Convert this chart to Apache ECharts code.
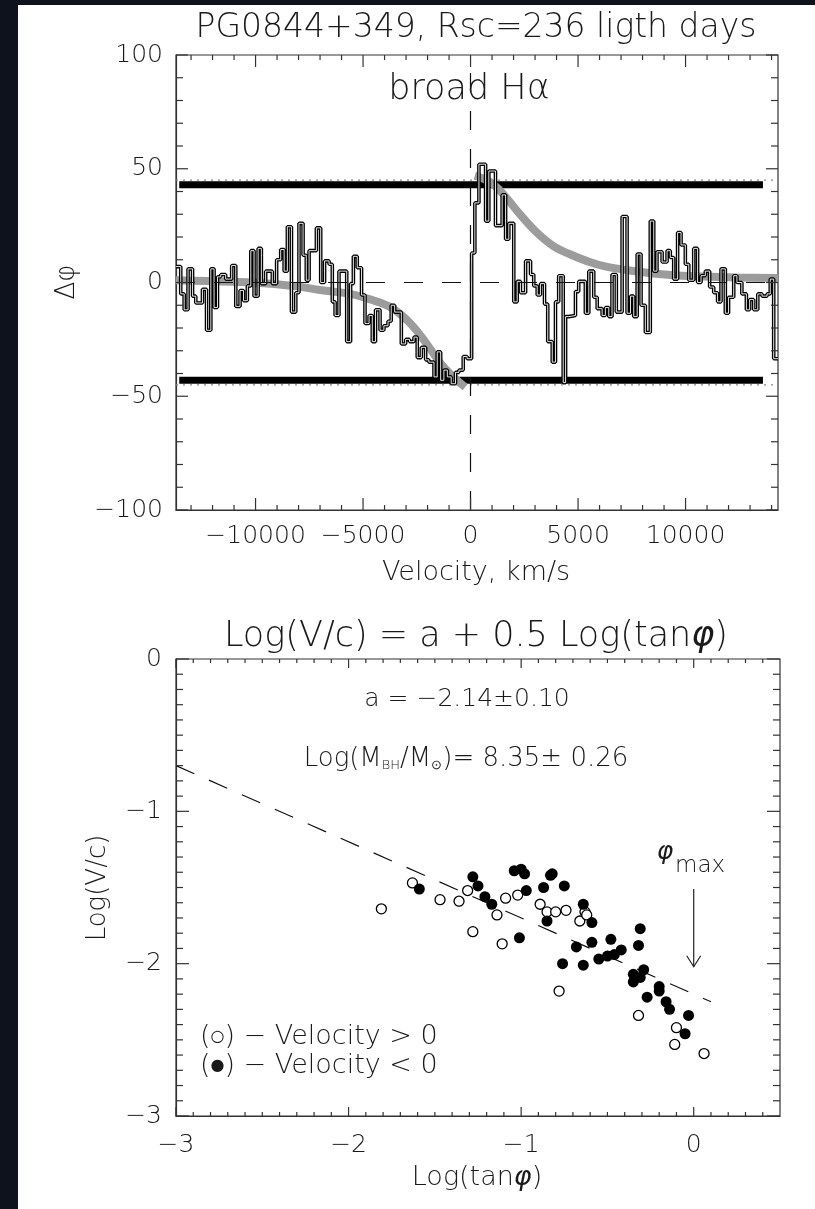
<!DOCTYPE html>
<html>
<head>
<meta charset="utf-8">
<script src="https://cdn.jsdelivr.net/npm/echarts@6/dist/echarts.min.js"></script>
<style>
  html, body { margin: 0; padding: 0; background: #fff; }
  #chart { width: 815px; height: 1209px; }
</style>
</head>
<body>
<div id="chart"></div>
<script>
// ---- top panel: broad H-alpha, delta phi vs velocity ----
const histVel = [-13700, -13480, -13320, -13140, -12930, -12780, -12470, -12280, -12080, -11930,
  -11770, -11620, -11390, -11110, -10920, -10720, -10560, -10380, -10220, -10070,
  -9880, -9730, -9530, -9220, -9020, -8830, -8670, -8520, -8330, -8130,
  -7980, -7790, -7640, -7510, -7170, -6970, -6790, -6580, -6430, -6300,
  -6120, -5960, -5760, -5580, -5450, -5270, -5070, -4910, -4720, -4570,
  -4420, -4210, -4030, -3840, -3690, -3530, -3220, -3020, -2840, -2630,
  -2480, -2290, -2090, -1940, -1700, -1550, -1390, -1240, -1080, -900,
  -700, -540, -340, -160, 50, 200, 390, 700, 850, 1160,
  1470, 1630, 1780, 2010, 2170, 2320, 2560, 2790, 2940, 3100,
  3250, 3440, 3590, 3800, 3950, 4100, 4310, 4420, 4570, 4880,
  5030, 5340, 5500, 5730, 5890, 6120, 6270, 6430, 6580, 6780,
  7050, 7280, 7440, 7590, 7750, 7930, 8130, 8360, 8520, 8670,
  8910, 9140, 9290, 9450, 9630, 9790, 9990, 10150, 10380, 10560,
  10720, 10920, 11120, 11310, 11490, 11650, 11850, 12000, 12240, 12390,
  12620, 12830, 12980, 13170, 13360, 13560, 13790, 13940, 14100, 14300]
const histPhi = [7, -5, -12, 6, -6, -9, -3, -21, 6, -11,
  2.5, 3.5, 1.5, 7.5, -10.5, -3.5, -8, -1.5, 14, -6,
  15, -0.5, 5, -0.5, 10, 14.5, 5, 24.5, -13, -4.5,
  26, 12, 1, 14, 24, 0, 9.5, 8, -8.5, -14.5,
  5, 5, -26, -0.5, 11.5, 6.5, -5.5, -18, -14.5, -26,
  -12, -21, -19, -17, -10, -13, -27, -25, -26, -24,
  -33, -28.5, -34, -35, -41.5, -30.5, -43, -38.5, -41.5, -44.5,
  -39.5, -38.5, -32.5, -33.5, 13, 35, 52, 27, 49, 25,
  38.5, 19, 26, -8.5, 0.5, -4.5, 9.5, 3.5, -1.5, -5.5,
  -0.5, -9.5, -26, -35, -8.5, 3, -44, -15, -14.5, -4,
  0.5, -13.5, 5, -6.5, -11.5, -14.5, -11, -15, 3.5, -13,
  29, -13.5, -6, -15, 12.5, -10, -22, 27, 5, 13.5,
  9, 14, 11, 1.5, 22, 16.5, 8, 1, 15, 0,
  3, 5, -2, -4.5, -8.5, 6, -13.5, -6.5, 3, 0,
  -5, -12, -7.5, -12, -5, -6, -5, 1.5, -33.5, -33.5]

// model curve (grey), two branches either side of v = 0
const modelVelNeg = [-13700, -11000, -9300, -8000, -7000, -5600, -4650, -3700, -2800, -2000, -1400, -800, -250]
const modelPhiNeg = [1, 0.3, -0.5, -1.8, -3.3, -5, -7.5, -11, -18, -27.5, -35.5, -41.5, -46]
const modelVelPos = [200, 930, 1550, 2320, 3100, 3870, 4650, 5420, 6200, 7750, 9300, 10840, 12400, 14300]
const modelPhiPos = [47, 44, 38.5, 29.7, 21.8, 15.9, 12.3, 9.4, 7.2, 4.8, 3.3, 2.6, 2.2, 2]

// +-phi limits: thick bars and dotted lines
const barPhi = 43
const barVel = [-13550, 13600]
const limitPhi = 45

const velRange = [-13700, 14300]
const topXMajorTicks = [-10000, -5000, 0, 5000, 10000]
const topXMinorTicks = [-13000, -12000, -11000, -9000, -8000, -7000, -6000, -4000, -3000, -2000, -1000,
  1000, 2000, 3000, 4000, 6000, 7000, 8000, 9000, 11000, 12000, 13000, 14000]
const topYMajorTicks = [-100, -50, 0, 50, 100]
const topYMinorTicks = [-90, -80, -70, -60, -40, -30, -20, -10, 10, 20, 30, 40, 60, 70, 80, 90]

// ---- bottom panel: Log(V/c) vs Log(tan phi) ----
const posX = [-1.81, -1.63, -1.47, -1.36, -1.31, -1.28, -1.14, -1.11, -1.09, -1.02, -0.89,
  -0.85, -0.80, -0.74, -0.66, -0.63, -0.62, -0.78, -0.32, -0.10, -0.11, 0.06]
const posY = [-1.64, -1.47, -1.58, -1.59, -1.52, -1.79, -1.68, -1.87, -1.57, -1.55, -1.61,
  -1.66, -1.66, -1.65, -1.72, -1.66, -1.68, -2.18, -2.34, -2.42, -2.53, -2.59]
const negX = [-1.59, -1.28, -1.25, -1.21, -1.17, -1.04, -1.00, -0.98, -0.97, -0.87, -0.83,
  -0.82, -0.75, -1.01, -0.85, -0.76, -0.68, -0.64, -0.64, -0.59, -0.59, -0.55, -0.50,
  -0.48, -0.46, -0.42, -0.31, -0.32, -0.29, -0.35, -0.35, -0.31, -0.27, -0.20, -0.20,
  -0.16, -0.14, -0.03, -0.05]
const negY = [-1.51, -1.43, -1.49, -1.56, -1.61, -1.39, -1.38, -1.41, -1.52, -1.50, -1.42,
  -1.41, -1.49, -1.83, -1.72, -2.00, -1.89, -1.61, -2.01, -1.86, -1.73, -1.97, -1.95,
  -1.84, -1.94, -1.91, -1.77, -1.88, -2.04, -2.07, -2.12, -2.09, -2.22, -2.15, -2.18,
  -2.25, -2.30, -2.34, -2.46]

const fitX = [-3, 0.1]
const fitY = [-0.70, -2.25]
// phi_max arrow: x, from y, to y
const phiMaxArrow = [0, -1.51, -2.02]

const botXMajorTicks = [-3, -2, -1, 0]
const botXMinorTicks = [-2.9, -2.8, -2.7, -2.6, -2.5, -2.4, -2.3, -2.2, -2.1,
  -1.9, -1.8, -1.7, -1.6, -1.5, -1.4, -1.3, -1.2, -1.1,
  -0.9, -0.8, -0.7, -0.6, -0.5, -0.4, -0.3, -0.2, -0.1, 0.1, 0.2, 0.3, 0.4]
const botYMajorTicks = [-3, -2, -1, 0]
const botYMinorTicks = [-2.9, -2.8, -2.7, -2.6, -2.5, -2.4, -2.3, -2.2, -2.1,
  -1.9, -1.8, -1.7, -1.6, -1.5, -1.4, -1.3, -1.2, -1.1,
  -0.9, -0.8, -0.7, -0.6, -0.5, -0.4, -0.3, -0.2, -0.1]

const FONT = '"DejaVu Sans", sans-serif'
const WEIGHT = 200
const INK = '#1a1a1a'
const zip = (xs, ys) => xs.map((x, i) => [x, ys[i]])
const minus = v => String(v).replace('-', '\u2212')

function valueAxis (gridIndex, min, max, labels, margin) {
  return {
    type: 'value',
    gridIndex: gridIndex,
    min: min,
    max: max,
    axisLine: { show: true, onZero: false, lineStyle: { color: '#333', width: 1.2 } },
    axisTick: { show: false },
    splitLine: { show: false },
    axisLabel: {
      customValues: labels,
      margin: margin,
      fontFamily: FONT,
      fontWeight: WEIGHT,
      fontSize: 25,
      color: INK,
      formatter: minus
    }
  }
}

// inward ticks on all four sides, drawn through the axis scales
function tickSeries (idx, xMaj, xMin, yMaj, yMin, x0, y0, len) {
  const data = [].concat(
    xMin.map(v => [v, y0, 0]), xMaj.map(v => [v, y0, 1]),
    yMin.map(v => [x0, v, 2]), yMaj.map(v => [x0, v, 3]))
  return {
    type: 'custom',
    xAxisIndex: idx,
    yAxisIndex: idx,
    silent: true,
    z: 5,
    encode: { x: 0, y: 1 },
    data: data,
    renderItem: function (params, api) {
      const cs = params.coordSys
      const p = api.coord([api.value(0), api.value(1)])
      const kind = api.value(2)
      const l = len[kind]
      const style = { stroke: '#333', lineWidth: 1.2 }
      if (kind < 2) {
        return { type: 'group', children: [
          { type: 'line', shape: { x1: p[0], y1: cs.y + cs.height, x2: p[0], y2: cs.y + cs.height - l }, style: style },
          { type: 'line', shape: { x1: p[0], y1: cs.y, x2: p[0], y2: cs.y + l }, style: style }
        ] }
      }
      return { type: 'group', children: [
        { type: 'line', shape: { x1: cs.x, y1: p[1], x2: cs.x + l, y2: p[1] }, style: style },
        { type: 'line', shape: { x1: cs.x + cs.width, y1: p[1], x2: cs.x + cs.width - l, y2: p[1] }, style: style }
      ] }
    }
  }
}

function label (x, y, text, rich, opts) {
  const o = opts || {}
  return {
    type: 'text',
    x: x,
    y: y,
    rotation: o.rotation || 0,
    z: 10,
    style: {
      text: text,
      rich: rich,
      fontFamily: FONT,
      fontWeight: WEIGHT,
      fontSize: o.size || 25,
      fill: INK,
      align: o.align || 'center',
      verticalAlign: 'middle'
    }
  }
}

function richSet (size) {
  return {
    t: { fontFamily: FONT, fontWeight: WEIGHT, fontSize: size, color: INK },
    i: { fontFamily: FONT, fontStyle: 'italic', fontSize: size, color: INK },
    s: { fontFamily: FONT, fontWeight: WEIGHT, fontSize: Math.round(size * 0.5), color: INK, verticalAlign: 'bottom' },
    c: { fontFamily: FONT, fontSize: Math.round(size * 0.6), color: INK }
  }
}

const myChart = echarts.init(document.getElementById('chart'))

const option = {
  animation: false,
  backgroundColor: '#ffffff',
  grid: [
    { left: 176, top: 55, width: 602, height: 455, show: true, borderColor: '#333', borderWidth: 1.2, outerBoundsMode: 'none' },
    { left: 176, top: 659, width: 604, height: 457, show: true, borderColor: '#333', borderWidth: 1.2, outerBoundsMode: 'none' }
  ],
  xAxis: [
    valueAxis(0, velRange[0], velRange[1], topXMajorTicks, 14),
    valueAxis(1, -3, 0.5, botXMajorTicks, 17)
  ],
  yAxis: [
    valueAxis(0, -100, 100, topYMajorTicks, 13),
    valueAxis(1, -3, 0, botYMajorTicks, 14)
  ],
  graphic: [
    { type: 'rect', shape: { x: 0, y: 0, width: 18, height: 1209 }, style: { fill: '#0d121c' }, z: 20 },
    { type: 'rect', shape: { x: 0, y: 0, width: 815, height: 5 }, style: { fill: '#0d121c' }, z: 20 },
    label(476, 28, 'PG0844+349, Rsc=236 ligth days', null, { size: 33 }),
    label(469, 90, 'broad H\u03b1', null, { size: 35 }),
    label(67, 282, '\u0394\u03c6', null, { size: 26, rotation: Math.PI / 2 }),
    label(476, 573, 'Velocity, km/s', null, { size: 27 }),
    label(476, 637, '{t|Log(V/c) = a + 0.5 Log(tan}{i|\u03c6}{t|)}', richSet(35)),
    label(467, 699, 'a = \u22122.14\u00b10.10', null, { size: 25 }),
    label(466, 759, '{t|Log(M}{s|BH}{t|/M}{s|\u2299}{t|)= 8.35\u00b1 0.26}', richSet(26)),
    label(665, 852, '{i|\u03c6}', richSet(25)),
    label(675, 866, 'max', null, { size: 23, align: 'left' }),
    label(200, 1037, '{t|(}{c|\u25cb}{t|) \u2212 Velocity > 0}', richSet(27), { align: 'left' }),
    label(200, 1066, '{t|(}{c|\u25cf}{t|) \u2212 Velocity < 0}', richSet(27), { align: 'left' }),
    label(98, 888, 'Log(V/c)', null, { size: 26, rotation: Math.PI / 2 }),
    label(477, 1178, '{t|Log(tan}{i|\u03c6}{t|)}', richSet(27))
  ],
  series: [
    // dotted limits
    {
      type: 'line', xAxisIndex: 0, yAxisIndex: 0, symbol: 'none', silent: true, z: 1,
      lineStyle: { color: '#888', width: 1.2, type: [2, 5] },
      data: [[velRange[0], limitPhi], [velRange[1], limitPhi]]
    },
    {
      type: 'line', xAxisIndex: 0, yAxisIndex: 0, symbol: 'none', silent: true, z: 1,
      lineStyle: { color: '#888', width: 1.2, type: [2, 5] },
      data: [[velRange[0], -limitPhi], [velRange[1], -limitPhi]]
    },
    // thick bars
    {
      type: 'line', xAxisIndex: 0, yAxisIndex: 0, symbol: 'none', silent: true, z: 2,
      lineStyle: { color: '#000', width: 7, cap: 'butt' },
      data: [[barVel[0], barPhi], [barVel[1], barPhi]]
    },
    {
      type: 'line', xAxisIndex: 0, yAxisIndex: 0, symbol: 'none', silent: true, z: 2,
      lineStyle: { color: '#000', width: 7, cap: 'butt' },
      data: [[barVel[0], -barPhi], [barVel[1], -barPhi]]
    },
    // grey model
    {
      type: 'line', xAxisIndex: 0, yAxisIndex: 0, symbol: 'none', smooth: 0.4, silent: true, z: 2,
      lineStyle: { color: '#9c9c9c', width: 8 },
      data: zip(modelVelNeg, modelPhiNeg)
    },
    {
      type: 'line', xAxisIndex: 0, yAxisIndex: 0, symbol: 'none', smooth: 0.4, silent: true, z: 2,
      lineStyle: { color: '#9c9c9c', width: 8 },
      data: zip(modelVelPos, modelPhiPos)
    },
    // histogram, drawn as a hollow double line
    {
      type: 'line', xAxisIndex: 0, yAxisIndex: 0, symbol: 'none', step: 'end', silent: true, z: 3,
      lineStyle: { color: '#000', width: 3.6 },
      data: zip(histVel, histPhi),
      markLine: {
        silent: true,
        symbol: 'none',
        label: { show: false },
        lineStyle: { color: '#111', width: 1.2, type: [19, 19] },
        data: [{ yAxis: 0 }, { xAxis: 0 }]
      }
    },
    {
      type: 'line', xAxisIndex: 0, yAxisIndex: 0, symbol: 'none', step: 'end', silent: true, z: 4,
      lineStyle: { color: '#fff', width: 0.9 },
      data: zip(histVel, histPhi)
    },
    tickSeries(0, topXMajorTicks, topXMinorTicks, topYMajorTicks, topYMinorTicks,
      velRange[0], -100, [5, 12, 7, 12]),

    // bottom panel
    {
      type: 'line', xAxisIndex: 1, yAxisIndex: 1, symbol: 'none', silent: true, z: 2,
      lineStyle: { color: '#111', width: 1.2, type: [20, 16] },
      data: zip(fitX, fitY)
    },
    {
      type: 'scatter', xAxisIndex: 1, yAxisIndex: 1, symbol: 'circle', symbolSize: 10, z: 3,
      itemStyle: { color: '#fff', borderColor: '#000', borderWidth: 1.3, opacity: 1 },
      data: zip(posX, posY)
    },
    {
      type: 'scatter', xAxisIndex: 1, yAxisIndex: 1, symbol: 'circle', symbolSize: 11, z: 4,
      itemStyle: { color: '#000', opacity: 1 },
      data: zip(negX, negY)
    },
    {
      type: 'custom', xAxisIndex: 1, yAxisIndex: 1, silent: true, z: 5,
      encode: { x: 0, y: 1 },
      data: [phiMaxArrow],
      renderItem: function (params, api) {
        const a = api.coord([api.value(0), api.value(1)])
        const b = api.coord([api.value(0), api.value(2)])
        const style = { stroke: '#222', lineWidth: 1.2, fill: null }
        return { type: 'group', children: [
          { type: 'line', shape: { x1: a[0], y1: a[1], x2: b[0], y2: b[1] }, style: style },
          { type: 'polyline', shape: { points: [[b[0] - 7, b[1] - 11], [b[0], b[1]], [b[0] + 7, b[1] - 11]] }, style: style }
        ] }
      }
    },
    tickSeries(1, botXMajorTicks, botXMinorTicks, botYMajorTicks, botYMinorTicks,
      -3, -3, [4, 9, 7, 13])
  ]
}

myChart.setOption(option)
</script>
</body>
</html>
